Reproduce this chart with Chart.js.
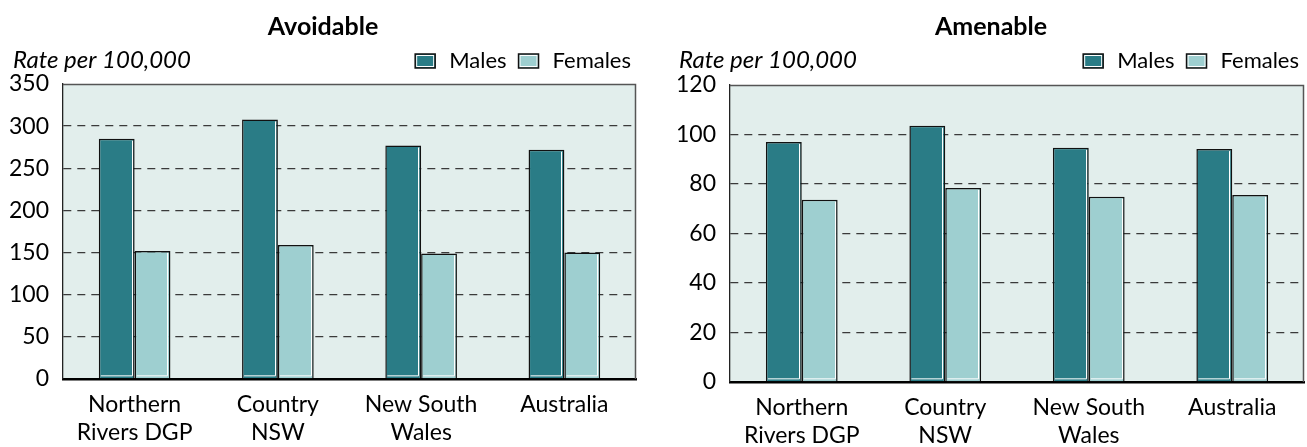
<!DOCTYPE html>
<html>
<head>
<meta charset="utf-8">
<script src="https://cdn.jsdelivr.net/npm/chart.js@4/dist/chart.umd.min.js"></script>
<style>
  body { margin: 0; background: #fff; }
  #left { position: absolute; left: 0; top: 0; }
  #right { position: absolute; left: 650px; top: 0; }
</style>
</head>
<body>
<canvas id="left" width="650" height="447"></canvas>
<canvas id="right" width="657" height="447"></canvas>
<script>
const categories = [['Northern', 'Rivers DGP'], ['Country', 'NSW'], ['New South', 'Wales'], ['Australia']];
const avoidableMales = [285, 308, 277, 272];
const avoidableFemales = [152, 159, 149, 150];
const amenableMales = [97, 103.5, 94.6, 94.1];
const amenableFemales = [73.6, 78.4, 74.8, 75.6];

const MALE = '#2a7c86';
const FEMALE = '#9ecfd0';
const FONT = 'Lato, "Open Sans", sans-serif';

// plot background, frame, title, axis caption and legend
const panelPlugin = {
  id: 'panel',
  beforeDraw(chart) {
    const a = chart.chartArea, c = chart.ctx;
    c.save();
    c.fillStyle = '#e2eeec';
    c.fillRect(a.left, a.top, a.right - a.left, a.bottom - a.top);
    c.restore();
  },
  afterDatasetsDraw(chart) {
    // light edge on the right and bottom of each bar, like the original bevel
    const c = chart.ctx;
    c.save();
    c.strokeStyle = '#fff';
    c.lineWidth = 1;
    chart.data.datasets.forEach((d, i) => {
      chart.getDatasetMeta(i).data.forEach(bar => {
        const p = bar.getProps(['x', 'y', 'base', 'width']);
        const r = Math.round(p.x + p.width / 2) - 2.5;
        c.beginPath();
        c.moveTo(r, p.y + 2);
        c.lineTo(r, p.base - 2.5);
        c.lineTo(p.x - p.width / 2 + 2, p.base - 2.5);
        c.stroke();
      });
    });
    c.restore();
  },
  afterDraw(chart, args, o) {
    const a = chart.chartArea, c = chart.ctx;
    c.save();
    c.strokeStyle = '#555';
    c.lineWidth = 1.5;
    c.beginPath();
    c.moveTo(a.left, a.top + 0.5);
    c.lineTo(a.right - 0.5, a.top + 0.5);
    c.lineTo(a.right - 0.5, a.bottom);
    c.stroke();

    c.fillStyle = '#000';
    c.textBaseline = 'middle';
    c.textAlign = 'center';
    c.font = 'bold 25px ' + FONT;
    c.fillText(o.title, o.titleX, 27);

    c.textAlign = 'left';
    c.font = 'italic 24px ' + FONT;
    c.fillText('Rate per 100,000', o.captionX, 60);

    // legend, right aligned to the plot
    c.font = '22px ' + FONT;
    const items = chart.data.datasets.map(d => ({ label: d.label, color: d.backgroundColor }));
    let x = a.right - 5;
    for (let i = items.length - 1; i >= 0; i--) {
      const w = c.measureText(items[i].label).width;
      x -= w;
      c.fillStyle = '#000';
      c.fillText(items[i].label, x, 61);
      x -= 14 + 20;
      c.fillStyle = items[i].color;
      c.fillRect(x, 54, 20, 14);
      c.strokeStyle = '#fff';
      c.lineWidth = 1;
      c.strokeRect(x + 1.5, 55.5, 17, 11);
      c.strokeStyle = '#111';
      c.lineWidth = 1.5;
      c.strokeRect(x, 54, 20, 14);
      x -= 12;
    }
    c.restore();
  }
};

function makeChart(id, males, females, yMax, yStep, o) {
  return new Chart(document.getElementById(id), {
    type: 'bar',
    data: {
      labels: categories,
      datasets: [
        { label: 'Males', data: males, backgroundColor: MALE, borderColor: '#111', borderWidth: 1.5 },
        { label: 'Females', data: females, backgroundColor: FEMALE, borderColor: '#111', borderWidth: 1.5 }
      ]
    },
    options: {
      responsive: false,
      animation: false,
      layout: { padding: { top: o.top, left: 0, right: o.right, bottom: 0 } },
      datasets: { bar: { categoryPercentage: 0.5, barPercentage: 1.0 } },
      plugins: {
        legend: { display: false },
        tooltip: { enabled: false },
        panel: o
      },
      scales: {
        x: {
          grid: { display: false },
          border: { display: true, color: '#000', width: 2.5 },
          ticks: {
            color: '#000', font: { family: FONT, size: 23, lineHeight: 1.2 },
            padding: 4, maxRotation: 0, autoSkip: false
          },
          afterFit: s => { s.height = o.xHeight; }
        },
        y: {
          min: 0, max: yMax,
          grid: {
            drawTicks: false,
            color: ctx => (ctx.tick.value === 0 || ctx.tick.value === yMax) ? 'transparent' : '#3a3a3a',
            lineWidth: 1.3
          },
          border: { display: true, color: '#222', width: 1.3, dash: [8, 6] },
          ticks: {
            stepSize: yStep, color: '#000', font: { family: FONT, size: 23 }, padding: 14
          },
          afterFit: s => { s.width = o.yWidth; }
        }
      }
    },
    plugins: [panelPlugin]
  });
}

makeChart('left', avoidableMales, avoidableFemales, 350, 50,
  { title: 'Avoidable', titleX: 323, captionX: 13, top: 84, right: 14, xHeight: 68, yWidth: 63 });
makeChart('right', amenableMales, amenableFemales, 120, 20,
  { title: 'Amenable', titleX: 341, captionX: 29, top: 85, right: 3, xHeight: 65, yWidth: 80 });
</script>
</body>
</html>
